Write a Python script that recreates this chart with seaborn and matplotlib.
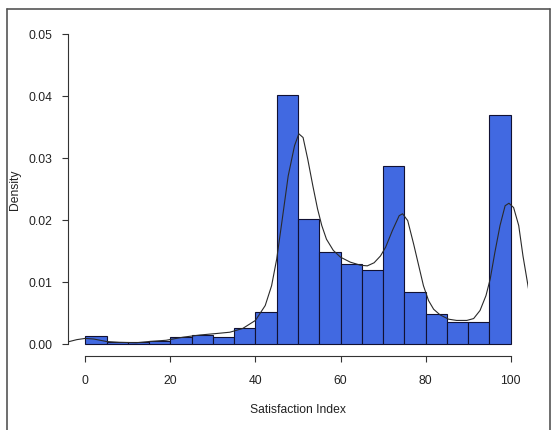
import matplotlib
matplotlib.use("Agg")
import matplotlib.pyplot as plt
import seaborn as sns
import numpy as np
from matplotlib.lines import Line2D

# histogram bins (width 5) and their density heights
bin_edges = [0, 5, 10, 15, 20, 25, 30, 35, 40, 45, 50, 55, 60, 65, 70, 75, 80, 85, 90, 95, 100]
bin_density = [0.00123, 0.00038, 0.0003, 0.0005, 0.0012, 0.0014, 0.0012, 0.0025, 0.0051, 0.0402,
               0.0202, 0.0148, 0.0129, 0.0120, 0.0287, 0.0084, 0.0048, 0.0036, 0.0035, 0.0370]

# density curve
curve_x = [-4.3, -2, 0, 2, 5, 8, 12, 15, 19, 23, 27, 31, 34, 37, 40, 42.3, 43.8, 45, 46.2, 47.7,
           49.2, 50.2, 51.2, 52.3, 53.5, 54.6, 55.6, 56.7, 58.3, 60, 62.3, 64.7, 66.3, 67.9, 69.4,
           70.6, 72.2, 73.8, 74.6, 75.8, 77.2, 78.4, 79.5, 80.7, 81.9, 83.4, 85.4, 87.3, 89.7,
           91.3, 92.8, 94.2, 95.2, 96.3, 97.5, 98.7, 99.6, 100.7, 101.9, 102.9, 104.3]
curve_y = [0.0003, 0.0007, 0.0009, 0.0008, 0.0004, 0.00027, 0.0002, 0.0004, 0.0006, 0.0011, 0.00145,
           0.0017, 0.0019, 0.0025, 0.0038, 0.0062, 0.0094, 0.0137, 0.0196, 0.0271, 0.032, 0.0339,
           0.0333, 0.0298, 0.0255, 0.0218, 0.0191, 0.0169, 0.0151, 0.014, 0.0132, 0.0127, 0.0126,
           0.0131, 0.0142, 0.0156, 0.0183, 0.0207, 0.021, 0.0199, 0.0161, 0.0126, 0.0094, 0.007,
           0.0056, 0.0047, 0.004, 0.0038, 0.0038, 0.0041, 0.0054, 0.0078, 0.0105, 0.0148, 0.0191,
           0.0223, 0.0227, 0.022, 0.0191, 0.0142, 0.0085]

x_ticks = [0, 20, 40, 60, 80, 100]
y_ticks = [0.00, 0.01, 0.02, 0.03, 0.04, 0.05]

sns.set_style("ticks")
plt.rcParams['font.family'] = ['Liberation Sans', 'DejaVu Sans']
plt.rcParams['font.size'] = 8.7
plt.rcParams['text.color'] = '#222222'

fig = plt.figure(figsize=(5.52, 4.31), dpi=100)
ax = fig.add_axes([0.1237, 0.1708, 0.8322, 0.7768])

mids = [(a + b) / 2 for a, b in zip(bin_edges[:-1], bin_edges[1:])]
sns.histplot(x=mids, weights=bin_density, bins=bin_edges, stat='count',
             color='#4169E1', edgecolor='#111133', linewidth=0.8, alpha=1, ax=ax)
sns.lineplot(x=curve_x, y=curve_y, color='#2a2a2a', linewidth=0.8, estimator=None, ax=ax)

ax.set_xlim(-4, 104)
ax.set_ylim(-0.002, 0.052)

for s in ['top', 'right']:
    ax.spines[s].set_visible(False)
ax.spines['left'].set_bounds(0, 0.05)
ax.spines['bottom'].set_bounds(0, 100)
for s in ['left', 'bottom']:
    ax.spines[s].set_color('#333333')
    ax.spines[s].set_linewidth(0.8)

ax.set_xticks(x_ticks)
ax.set_xticklabels([str(t) for t in x_ticks])
ax.set_yticks(y_ticks)
ax.set_yticklabels([f'{t:.2f}' for t in y_ticks])
ax.tick_params(axis='both', direction='out', length=4.3, width=0.8, color='#333333',
               labelcolor='#222222', labelsize=8.7)
ax.tick_params(axis='x', pad=8.6)
ax.tick_params(axis='y', pad=7.2)

ax.set_xlabel('Satisfaction Index', fontsize=8.7, color='#222222')
ax.set_ylabel('Density', fontsize=8.7, color='#222222')
ax.xaxis.set_label_coords(0.5, -0.139)
ax.yaxis.set_label_coords(-0.103, 0.5)

# outer frame of the image
W, H = 552, 431
frame_color = '#555555'
fig.add_artist(Line2D([7 / W, 7 / W], [0, 1 - 10 / H], transform=fig.transFigure, color=frame_color, lw=1.2))
fig.add_artist(Line2D([7 / W, 550 / W], [1 - 10 / H, 1 - 10 / H], transform=fig.transFigure, color=frame_color, lw=1.2))
fig.add_artist(Line2D([550 / W, 550 / W], [0, 1 - 10 / H], transform=fig.transFigure, color=frame_color, lw=1.2))

fig.savefig('out.png', dpi=100)
plt.close(fig)
